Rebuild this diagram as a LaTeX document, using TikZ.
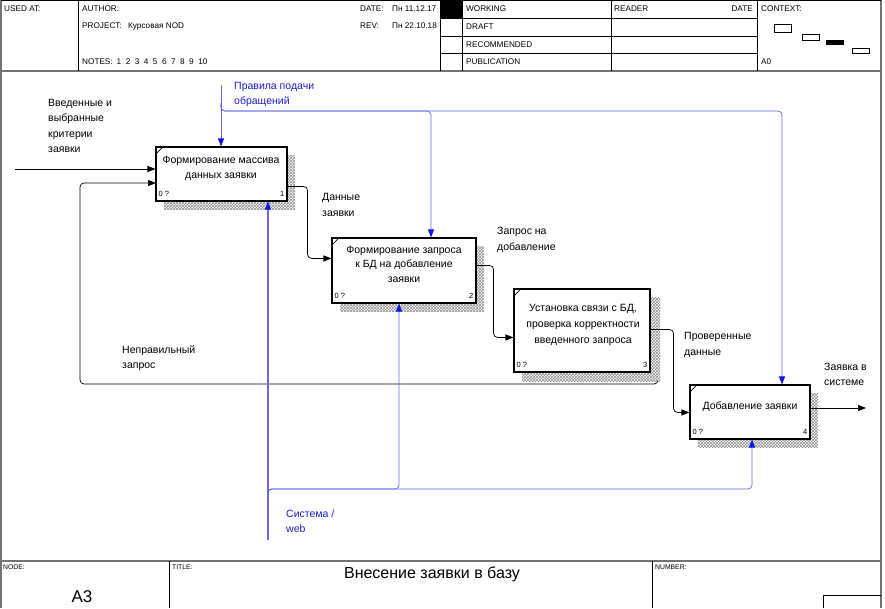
\documentclass[tikz,border=0pt]{standalone}
\usepackage{fontspec}
\setmainfont{Liberation Sans}
\usetikzlibrary{arrows.meta,patterns,calc}
\definecolor{idefblue}{RGB}{20,20,225}
\definecolor{lineblue}{RGB}{105,105,230}
\definecolor{txtblue}{RGB}{30,30,200}
\begin{document}
\begin{tikzpicture}[x=1pt,y=-1pt,
 frm/.style={draw=black!55, line width=1.2pt},
 hln/.style={draw=black, line width=0.6pt},
 hdr/.style={font=\fontsize{8.2}{9}\selectfont, inner sep=0pt, anchor=west},
 ftr/.style={font=\fontsize{6.8}{8}\selectfont, inner sep=0pt, anchor=west},
 lbl/.style={font=\fontsize{10.5}{15.5}\selectfont, inner sep=0pt, anchor=west, align=left},
 blbl/.style={lbl, text=txtblue},
 bx/.style={draw, line width=1.1pt, fill=white, inner sep=0pt},
 btxt/.style={font=\fontsize{10.5}{14.5}\selectfont, align=center, inner sep=0pt},
 sml/.style={font=\fontsize{7.5}{8}\selectfont, inner sep=0pt},
 shd/.style={fill=white, postaction={pattern=crosshatch, pattern color=black!45}},
 karr/.style={draw=black, line width=0.7pt, rounded corners=4pt, -{Triangle[length=8pt,width=6pt]}},
 barr/.style={draw=lineblue, line width=0.7pt, rounded corners=4pt, -{Triangle[length=8pt,width=6pt,color=idefblue]}}
]
\useasboundingbox (0,0) rectangle (885,608);
\fill[white] (0,0) rectangle (885,608);

% ---------- frame & header ----------
\draw[frm] (1,0) -- (1,608);
\draw[frm] (881,0) -- (881,608);
\draw[hln] (1,0.4) -- (881,0.4);
\draw[frm] (1,71) -- (881,71);
\foreach \x in {78,440,462,611,757} \draw[hln] (\x,0) -- (\x,71);
\foreach \y in {18,36,53} \draw[hln] (440,\y) -- (757,\y);
\fill[black] (440,0) rectangle (462,18);

\node[hdr] (usedat) at (4,9) {USED AT:};
\node[hdr] (author) at (82,9) {AUTHOR:};
\node[hdr] (project) at (82,26) {PROJECT:};
\node[hdr] (projval) at (128,26) {Курсовая NOD};
\node[hdr] (notes) at (82,62) {NOTES:\hspace{4pt}1\hspace{4.5pt}2\hspace{4.5pt}3\hspace{4.5pt}4\hspace{4.5pt}5\hspace{4.5pt}6\hspace{4.5pt}7\hspace{4.5pt}8\hspace{4.5pt}9\hspace{4.5pt}10};
\node[hdr] (date) at (360,9) {DATE:};
\node[hdr] (dateval) at (392,9) {Пн 11.12.17};
\node[hdr] (rev) at (360,26) {REV:};
\node[hdr] (revval) at (392,26) {Пн 22.10.18};
\node[hdr] (working) at (466,9) {WORKING};
\node[hdr] (draft) at (466,27) {DRAFT};
\node[hdr] (recom) at (466,45) {RECOMMENDED};
\node[hdr] (publ) at (466,62) {PUBLICATION};
\node[hdr] (reader) at (614,9) {READER};
\node[hdr, anchor=east] (rdate) at (753,9) {DATE};
\node[hdr] (context) at (761,9) {CONTEXT:};
\node[hdr] (a0) at (761,62) {A0};
\draw[line width=0.8pt] (774,24) rectangle (791,32);
\draw[line width=0.8pt] (802,34) rectangle (819,40);
\fill[black] (826,40) rectangle (844,45);
\draw[line width=0.8pt] (852,48) rectangle (869,53);

% ---------- footer ----------
\draw[frm] (1,561) -- (881,561);
\draw[hln] (169,561) -- (169,608);
\draw[hln] (652,561) -- (652,608);
\draw[hln] (823,608) -- (823,595) -- (881,595);
\node[ftr] (nodelbl) at (3,567) {NODE:};
\node[ftr] (titlelbl) at (172,567) {TITLE:};
\node[ftr] (numlbl) at (655,567) {NUMBER:};
\node[font=\fontsize{17}{18}\selectfont, inner sep=0pt] (nodeval) at (82,597) {A3};
\node[font=\fontsize{16}{18}\selectfont, inner sep=0pt] (title) at (432,574) {Внесение заявки в базу};

% ---------- boxes (positions) ----------
\coordinate (b1c) at (221.5,174);
\coordinate (b2c) at (404,270.5);
\coordinate (b3c) at (582,330.5);
\coordinate (b4c) at (750,412);

% feedback (partly under shadow)
\coordinate (fbx) at (80,183);
\draw[karr] (650,364) -- (658,364) -- (658,384) -| (fbx) -- (fbx -| 156,0);

% shadows
\path[shd] (164,155) rectangle (295,209);
\path[shd] (340,246) rectangle (484,311);
\path[shd] (522,297) rectangle (660,381);
\path[shd] (698,393) rectangle (818,447);

% boxes
\node[bx, minimum width=131, minimum height=54] (b1) at (b1c) {};
\node[bx, minimum width=144, minimum height=65] (b2) at (b2c) {};
\node[bx, minimum width=136, minimum height=83] (b3) at (b3c) {};
\node[bx, minimum width=120, minimum height=54] (b4) at (b4c) {};
\foreach \b in {b1,b2,b3,b4}
  \draw[line width=0.7pt] ($(\b.north west)+(1,7)$) -- ($(\b.north west)+(7,1)$);

\node[btxt, font=\fontsize{10.5}{15}\selectfont] (t1) at (221,168.5) {Формирование массива\\данных заявки};
\node[btxt] (t2) at (404,264) {Формирование запроса\\к БД на добавление\\заявки};
\node[btxt, font=\fontsize{10.5}{16}\selectfont] (t3) at (583,325) {Установка связи с БД,\\проверка корректности\\введенного запроса};
\node[btxt] (t4) at (750,407) {Добавление заявки};

\foreach \b/\n in {b1/1,b2/2,b3/3,b4/4}{
  \node[sml, anchor=west] at ($(\b.south west)+(3,-8)$) {0 ?};
  \node[sml, anchor=east] at ($(\b.south east)+(-3,-8)$) {\n};
}

% ---------- connectors ----------
\coordinate (src1) at (15,169);
\draw[karr] (src1) -- (src1 -| b1.west);
\draw[karr] ($(b1.north east)+(0,40)$) -- ++(20,0) |- ($(b2.north west)+(0,21)$);
\draw[karr] ($(b2.north east)+(0,28)$) -- ++(17,0) |- ($(b3.north west)+(0,49)$);
\draw[karr] ($(b3.north east)+(0,41)$) -- ++(23,0) |- ($(b4.north west)+(0,28)$);
\coordinate (out4) at (866,408);
\draw[karr] (out4 -| b4.east) -- (out4);

% controls
\coordinate (ctop) at (221,85);
\coordinate (cbr) at (221,103);
\coordinate (c2) at (431,111);
\coordinate (c4) at (782,111);
\draw[barr] (ctop) -- (ctop |- b1.north);
\draw[barr] (cbr) |- (c2) -- (c2 |- b2.north);
\draw[barr] (cbr) |- (c4) -- (c4 |- b4.north);

% mechanisms
\coordinate (mbot) at (268,540);
\coordinate (mbr) at (268,497);
\coordinate (m2) at (399,489);
\coordinate (m4) at (752,489);
\draw[barr, line width=1.4pt, -{Triangle[length=8pt,width=6pt,color=idefblue,line width=0.7pt]}] (mbot) -- (mbot |- b1.south);
\draw[barr] (mbr) |- (m2) -- (m2 |- b2.south);
\draw[barr] (mbr) |- (m4) -- (m4 |- b4.south);

% ---------- labels ----------
\node[lbl, anchor=north west] (l1) at (48,99) {Введенные и\\выбранные\\критерии\\заявки};
\node[blbl] (lc) at (234,94.5) {Правила подачи\\обращений};
\node[lbl] (ld1) at (322,205) {Данные\\заявки};
\node[lbl] (ld2) at (497,240) {Запрос на\\добавление};
\node[lbl] (ld3) at (684,345) {Проверенные\\данные};
\node[lbl] (lout) at (824,374.5) {Заявка в\\системе};
\node[lbl] (lfb) at (122,358) {Неправильный\\запрос};
\node[blbl] (lm) at (286,521) {Система /\\web};
\end{tikzpicture}
\end{document}
